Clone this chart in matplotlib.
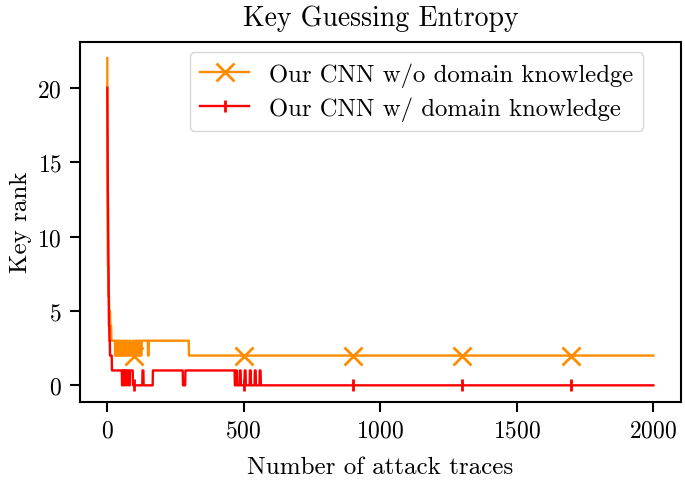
import numpy as np
import matplotlib
matplotlib.use('Agg')
import matplotlib.pyplot as plt

plt.rcParams['font.family'] = 'serif'
plt.rcParams['font.serif'] = ['cmr10']
plt.rcParams['mathtext.fontset'] = 'cm'
plt.rcParams['axes.formatter.use_mathtext'] = True
plt.rcParams['font.size'] = 18
plt.rcParams['axes.linewidth'] = 1.5

n_traces = 2000

# key rank per number of traces, stored as change points (trace index where the value starts)
orange_x = [1, 2, 3, 5, 8, 12, 16, 30, 33, 36, 40, 43, 47, 50, 55, 58, 63, 66, 71, 75, 82, 86,
            94, 98, 105, 112, 118, 122, 127, 150, 153, 300]
orange_v = [22, 11, 8, 6, 5, 4, 3, 2, 3, 2, 3, 2, 3, 2, 3, 2, 3, 2, 3, 2, 3, 2,
            3, 2, 3, 2, 3, 2, 3, 2, 3, 2]

red_x = [1, 2, 3, 4, 5, 6, 7, 9, 11, 14, 18, 55, 58, 62, 64, 70, 73, 80, 84, 95, 130, 134,
         168, 278, 287, 468, 472, 476, 486, 490, 504, 508, 523, 527, 541, 545, 559, 563]
red_v = [20, 16, 13, 11, 9, 6, 4, 3, 2, 2, 1, 0, 1, 0, 1, 0, 1, 0, 1, 0, 1, 0,
         1, 0, 1, 0, 1, 0, 1, 0, 1, 0, 1, 0, 1, 0, 1, 0]

labels = ['Our CNN w/o domain knowledge', 'Our CNN w/ domain knowledge']


def expand(starts, vals):
    # run-length expansion of the change points over 1..n_traces
    ends = starts[1:] + [n_traces + 1]
    counts = np.array(ends) - np.array(starts)
    return np.repeat(vals, counts)


traces = np.arange(1, n_traces + 1)
orange = expand(orange_x, orange_v)
red = expand(red_x, red_v)
marks = list(range(99, n_traces, 400))

fig = plt.figure(figsize=(6.85, 4.81), dpi=100)
ax = fig.add_axes([0.1168, 0.1628, 0.8769, 0.7484])
ax.plot(traces, orange, color='darkorange', lw=1.7, marker='x', ms=13, mew=2,
        markevery=marks, label=labels[0])
ax.plot(traces, red, color='red', lw=1.7, marker='|', ms=9, mew=2,
        markevery=marks, label=labels[1])

ax.set_xticks([0, 500, 1000, 1500, 2000])
ax.set_yticks([0, 5, 10, 15, 20])
ax.tick_params(labelsize=17, length=7, width=1.5, pad=6)
ax.set_xlabel('Number of attack traces', labelpad=10)
ax.set_ylabel('Key rank', labelpad=4)
ax.set_title('Key Guessing Entropy', fontsize=20, pad=12)
ax.legend(loc='upper left', bbox_to_anchor=(0.183, 0.971), borderaxespad=0,
          fontsize=17.8, labelspacing=0.4)

fig.savefig('out.png', dpi=100)
